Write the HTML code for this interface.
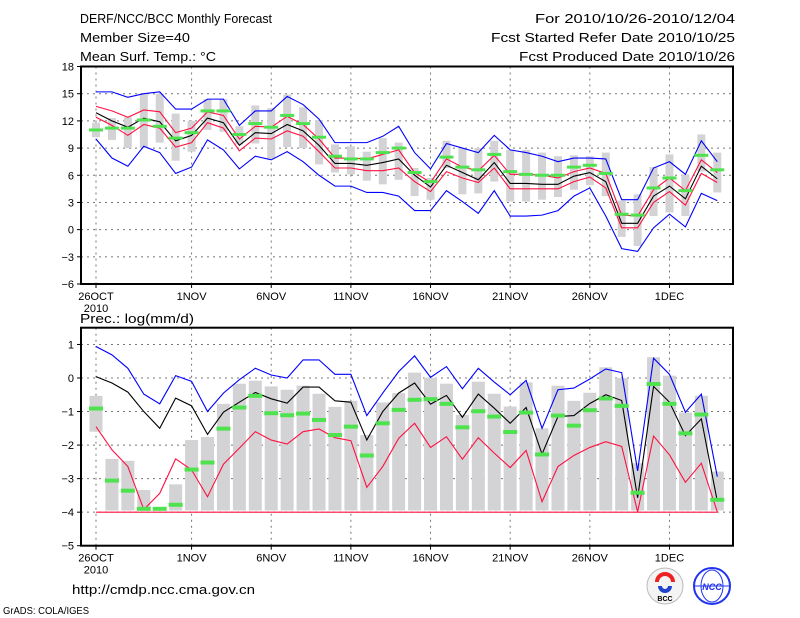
<!DOCTYPE html>
<html><head><meta charset="utf-8"><style>
body{margin:0;background:#fff;}
svg{display:block;font-family:"Liberation Sans",sans-serif;}
</style></head><body>
<svg id="c" width="800" height="618" viewBox="0 0 800 618">
<text x="80" y="23" font-size="12.5" textLength="192" lengthAdjust="spacingAndGlyphs">DERF/NCC/BCC Monthly Forecast</text>
<text x="80" y="42" font-size="12.5" textLength="110" lengthAdjust="spacingAndGlyphs">Member Size=40</text>
<text x="80" y="61" font-size="12.5" textLength="136" lengthAdjust="spacingAndGlyphs">Mean Surf. Temp.: °C</text>
<text x="735" y="23" font-size="12.5" text-anchor="end" textLength="200" lengthAdjust="spacingAndGlyphs">For 2010/10/26-2010/12/04</text>
<text x="735" y="42" font-size="12.5" text-anchor="end" textLength="244" lengthAdjust="spacingAndGlyphs">Fcst Started Refer Date 2010/10/25</text>
<text x="735" y="61" font-size="12.5" text-anchor="end" textLength="216" lengthAdjust="spacingAndGlyphs">Fcst Produced Date 2010/10/26</text>
<text x="80" y="323" font-size="12.5" textLength="114" lengthAdjust="spacingAndGlyphs">Prec.: log(mm/d)</text>
<text x="72" y="594" font-size="13" textLength="183" lengthAdjust="spacingAndGlyphs">http://cmdp.ncc.cma.gov.cn</text>
<text x="3" y="614" font-size="10" textLength="86" lengthAdjust="spacingAndGlyphs">GrADS: COLA/IGES</text>
<g>
<circle cx="665" cy="586" r="18" fill="#f4f4f4" stroke="#bbb"/>
<path d="M657 582 a8 8 0 1 1 16 0" fill="none" stroke="#e22" stroke-width="4"/>
<path d="M660 586 a5 5 0 1 0 10 0" fill="none" stroke="#24c" stroke-width="4"/>
<text x="665" y="601" font-size="7" text-anchor="middle" font-weight="bold">BCC</text>
</g>
<g>
<circle cx="712" cy="586" r="18" fill="#fff" stroke="#23e" stroke-width="2"/>
<ellipse cx="712" cy="586" rx="11" ry="16" fill="none" stroke="#23e"/>
<line x1="694" y1="586" x2="730" y2="586" stroke="#23e"/>
<text x="712" y="590" font-size="9" text-anchor="middle" fill="#23e" font-weight="bold" font-style="italic">NCC</text>
</g>
</svg>
<script>
// ---- data ----
const days = ['26OCT','1NOV','6NOV','11NOV','16NOV','21NOV','26NOV','1DEC'];
const dayIdx = [0,6,11,16,21,26,31,36];
const tTicks = [18,15,12,9,6,3,0,-3,-6];
const pTicks = [1,0,-1,-2,-3,-4,-5];
// temperature
const tMax = [15.2,15.2,14.6,15.0,15.2,13.3,13.3,14.4,14.4,11.5,13.1,13.1,14.7,13.8,12.2,9.6,9.6,9.6,10.3,11.4,8.5,6.7,9.5,9.0,8.5,10.4,8.8,8.5,8.1,7.5,7.9,7.9,7.8,3.3,3.3,6.8,7.5,6.1,9.8,7.5];
const tMin = [10.0,7.9,7.0,9.2,8.5,6.2,6.9,9.9,8.8,6.7,8.1,7.7,8.6,7.5,6.0,4.8,4.8,4.1,4.1,3.7,2.1,2.1,4.3,3.1,1.8,4.3,1.5,1.5,1.6,2.1,3.7,4.6,1.5,-2.1,-2.4,0.2,1.7,0.3,4.0,3.2];
const tUp = [13.6,13.1,12.4,13.2,13.0,10.7,11.2,13.0,12.6,10.0,11.4,11.3,12.5,11.6,10.0,7.9,7.9,7.8,8.3,8.8,6.3,5.2,7.8,6.9,6.5,8.2,6.1,6.1,6.0,5.7,6.4,6.8,6.2,1.6,1.5,4.4,5.7,4.3,7.7,6.3];
const tLow = [12.4,11.5,10.4,11.6,11.2,9.1,9.6,11.8,11.2,8.7,10.1,10.0,10.9,10.3,8.6,6.8,6.8,6.5,6.5,6.8,5.3,4.2,6.4,5.7,5.2,6.8,4.5,4.5,4.5,4.5,5.3,5.8,4.6,0.2,0.2,3.0,4.2,2.7,6.2,5.2];
const tMean = [12.9,12.0,11.3,12.3,11.9,9.8,10.4,12.3,11.8,9.3,10.7,10.6,11.6,10.9,9.3,7.3,7.3,7.1,7.4,7.8,6.0,4.7,7.1,6.3,5.5,7.4,5.1,5.1,5.0,5.0,5.9,6.3,5.3,0.7,0.7,3.7,4.8,3.4,7.0,5.6];
const tObs = [11.0,11.2,11.2,12.1,11.4,10.1,10.7,13.1,13.1,10.5,11.7,11.3,12.6,11.7,10.2,8.1,7.8,7.8,8.5,9.0,6.3,5.3,8.0,6.9,6.6,8.3,6.4,6.1,6.0,6.0,6.9,7.1,6.2,1.7,1.6,4.6,5.7,4.3,8.2,6.6];
const tBarHi = [11.8,12.3,12.4,15.0,15.0,12.8,12.0,14.4,14.4,11.4,13.7,13.4,14.9,13.5,12.1,9.4,9.2,8.6,10.1,9.6,6.8,5.7,9.8,9.0,9.0,9.8,8.8,8.8,8.5,8.1,8.2,8.1,8.5,3.2,3.9,6.9,8.3,6.1,10.5,8.5];
const tBarLo = [10.2,9.9,9.0,9.0,9.6,7.6,8.6,11.0,10.8,9.4,9.5,7.8,9.1,9.0,7.2,6.3,6.1,5.4,5.0,5.5,3.7,3.3,6.8,3.9,4.0,5.3,3.1,3.1,3.3,3.6,4.4,4.9,3.7,-0.8,-1.8,1.5,1.9,1.5,6.4,4.1];
// precipitation (log mm/d)
const pMax = [0.94,0.69,0.29,-0.48,-0.77,0.07,-0.1,-1.0,-0.45,-0.05,0.29,0.09,0.0,0.54,0.54,0.11,0.11,-1.12,-0.45,0.19,0.66,0.02,0.34,-0.32,0.29,-0.12,-0.5,-0.07,-1.5,-0.35,-0.3,-0.03,0.27,0.16,-2.77,0.59,0.11,-1.02,-0.48,-2.94];
const pMean = [0.04,-0.15,-0.42,-1.0,-1.5,-0.6,-0.83,-1.68,-1.02,-0.72,-0.43,-0.62,-0.75,-0.27,-0.27,-0.68,-0.72,-1.85,-1.0,-0.45,-0.15,-0.78,-0.52,-1.17,-0.48,-0.9,-1.35,-0.88,-2.27,-1.15,-1.12,-0.76,-0.5,-0.67,-3.57,-0.25,-0.72,-1.72,-1.22,-3.67];
const pLow = [-1.45,-2.14,-2.64,-3.92,-3.44,-2.41,-2.74,-3.54,-2.57,-2.09,-1.6,-1.85,-1.97,-1.6,-1.52,-1.78,-1.87,-3.26,-2.64,-1.8,-1.35,-2.07,-1.75,-2.42,-1.78,-2.24,-2.67,-2.16,-3.69,-2.64,-2.31,-2.07,-1.9,-2.04,-3.99,-1.73,-2.29,-3.11,-2.54,-3.99];
const pMin = [-4,-4,-4,-4,-4,-4,-4,-4,-4,-4,-4,-4,-4,-4,-4,-4,-4,-4,-4,-4,-4,-4,-4,-4,-4,-4,-4,-4,-4,-4,-4,-4,-4,-4,-4,-4,-4,-4,-4,-4];
const pObs = [-0.91,-3.06,-3.36,-3.9,-3.9,-3.78,-2.73,-2.52,-1.51,-0.88,-0.53,-1.05,-1.11,-1.06,-1.25,-1.7,-1.45,-2.31,-1.35,-0.95,-0.65,-0.63,-0.77,-1.47,-0.99,-1.15,-1.61,-1.03,-2.28,-1.12,-1.42,-0.96,-0.61,-0.83,-3.42,-0.18,-0.77,-1.65,-1.09,-3.63];
const pBarHi = [-0.53,-2.41,-2.47,-3.34,-3.9,-3.17,-1.85,-1.76,-0.77,-0.17,-0.08,-0.25,-0.35,-0.23,-0.47,-0.86,-0.68,-1.7,-0.73,-0.45,0.16,0.01,-0.17,-1.1,-0.11,-0.47,-0.85,-0.13,-1.5,-0.23,-0.68,-0.44,0.32,0.0,-2.54,0.62,0.07,-1.03,-0.53,-2.79];
const pBarLo = [-1.6,-3.95,-3.95,-3.95,-3.95,-3.95,-3.95,-3.95,-3.95,-3.95,-3.95,-3.95,-3.95,-3.95,-3.95,-3.95,-3.95,-3.95,-3.95,-3.95,-3.95,-3.95,-3.95,-3.95,-3.95,-3.95,-3.95,-3.95,-3.95,-3.95,-3.95,-3.95,-3.95,-3.95,-3.95,-3.95,-3.95,-3.95,-3.95,-3.95];

const svg = document.getElementById('c');
const NS = 'http://www.w3.org/2000/svg';
const X0 = 81, X1 = 733;
function xs(d){ return 96 + d*15.93; }
function mk(tag, attrs){ const e=document.createElementNS(NS,tag); for(const k in attrs) e.setAttribute(k,attrs[k]); svg.appendChild(e); return e; }

function panel(prefix, top, bottom, vmax, vmin, ticks, series){
  const ys = v => top + (vmax - v) * (bottom - top) / (vmax - vmin);
  // grid
  ticks.forEach(t => {
    if (t===vmax || t===vmin) return;
    const g = mk('line',{x1:X0,x2:X1,y1:ys(t),y2:ys(t),stroke:'#777','stroke-dasharray':'2,4','stroke-width':1});
    
    
  });
  dayIdx.forEach(d => {
    const g = mk('line',{x1:xs(d),x2:xs(d),y1:top,y2:bottom,stroke:'#777','stroke-dasharray':'2,4','stroke-width':1});
    
    
  });
  // ticks labels
  ticks.forEach(t => {
    const tx = mk('text',{x:74,y:ys(t)+4,'font-size':11,'text-anchor':'end'});
    tx.textContent = t<0 ? '\u2212'+(-t) : String(t);
    
    
    const tk = mk('line',{x1:77,x2:X0,y1:ys(t),y2:ys(t),stroke:'#000'});
    
    
  });
  days.forEach((lab,i) => {
    const tx = mk('text',{x:xs(dayIdx[i]),y:bottom+16,'font-size':11,'text-anchor':'middle'});
    tx.textContent = lab;
    
    
    const tk = mk('line',{x1:xs(dayIdx[i]),x2:xs(dayIdx[i]),y1:bottom,y2:bottom+4,stroke:'#000'});
    
    
  });
  const yr = mk('text',{x:xs(0),y:bottom+28,'font-size':11,'text-anchor':'middle'});
  yr.textContent = '2010';
  
  
  // bars
  series.barHi.forEach((h,d) => {
    const lo = series.barLo[d];
    const r = mk('rect',{x:xs(d)-series.bw/2,y:ys(h),width:series.bw,height:Math.max(0.5,ys(lo)-ys(h)),fill:'#d3d3d6'});
    
    
  });
  // lines
  series.lines.forEach(L => {
    const p = mk('polyline',{points:L.v.map((v,d)=>xs(d)+','+ys(v)).join(' '),fill:'none',stroke:L.c,'stroke-width':1.1});
    
    
  });
  // obs markers
  series.obs.forEach((v,d) => {
    const r = mk('rect',{x:xs(d)-7,y:ys(v)-series.gh/2,width:14,height:series.gh,fill:'#4ee34e'});
    
    
  });
  const f = mk('rect',{x:X0,y:top,width:X1-X0,height:bottom-top,fill:'none',stroke:'#000','stroke-width':2});
  
  
}

panel('temp', 66.5, 284, 18, -6, tTicks, {
  barHi:tBarHi, barLo:tBarLo, bw:8, gh:3, obs:tObs,
  lines:[{n:'max-line',v:tMax,c:'#0000ff'},{n:'min-line',v:tMin,c:'#0000ff'},{n:'upper-line',v:tUp,c:'#ff1040'},{n:'lower-line',v:tLow,c:'#ff1040'},{n:'mean-line',v:tMean,c:'#000'}]
});
panel('prec', 327.7, 545.7, 1.5, -5, pTicks, {
  barHi:pBarHi, barLo:pBarLo, bw:13, gh:4, obs:pObs,
  lines:[{n:'max-line',v:pMax,c:'#0000ff'},{n:'min-line',v:pMin,c:'#ff1040'},{n:'lower-line',v:pLow,c:'#ff1040'},{n:'mean-line',v:pMean,c:'#000'}]
});
</script>
</body></html>
